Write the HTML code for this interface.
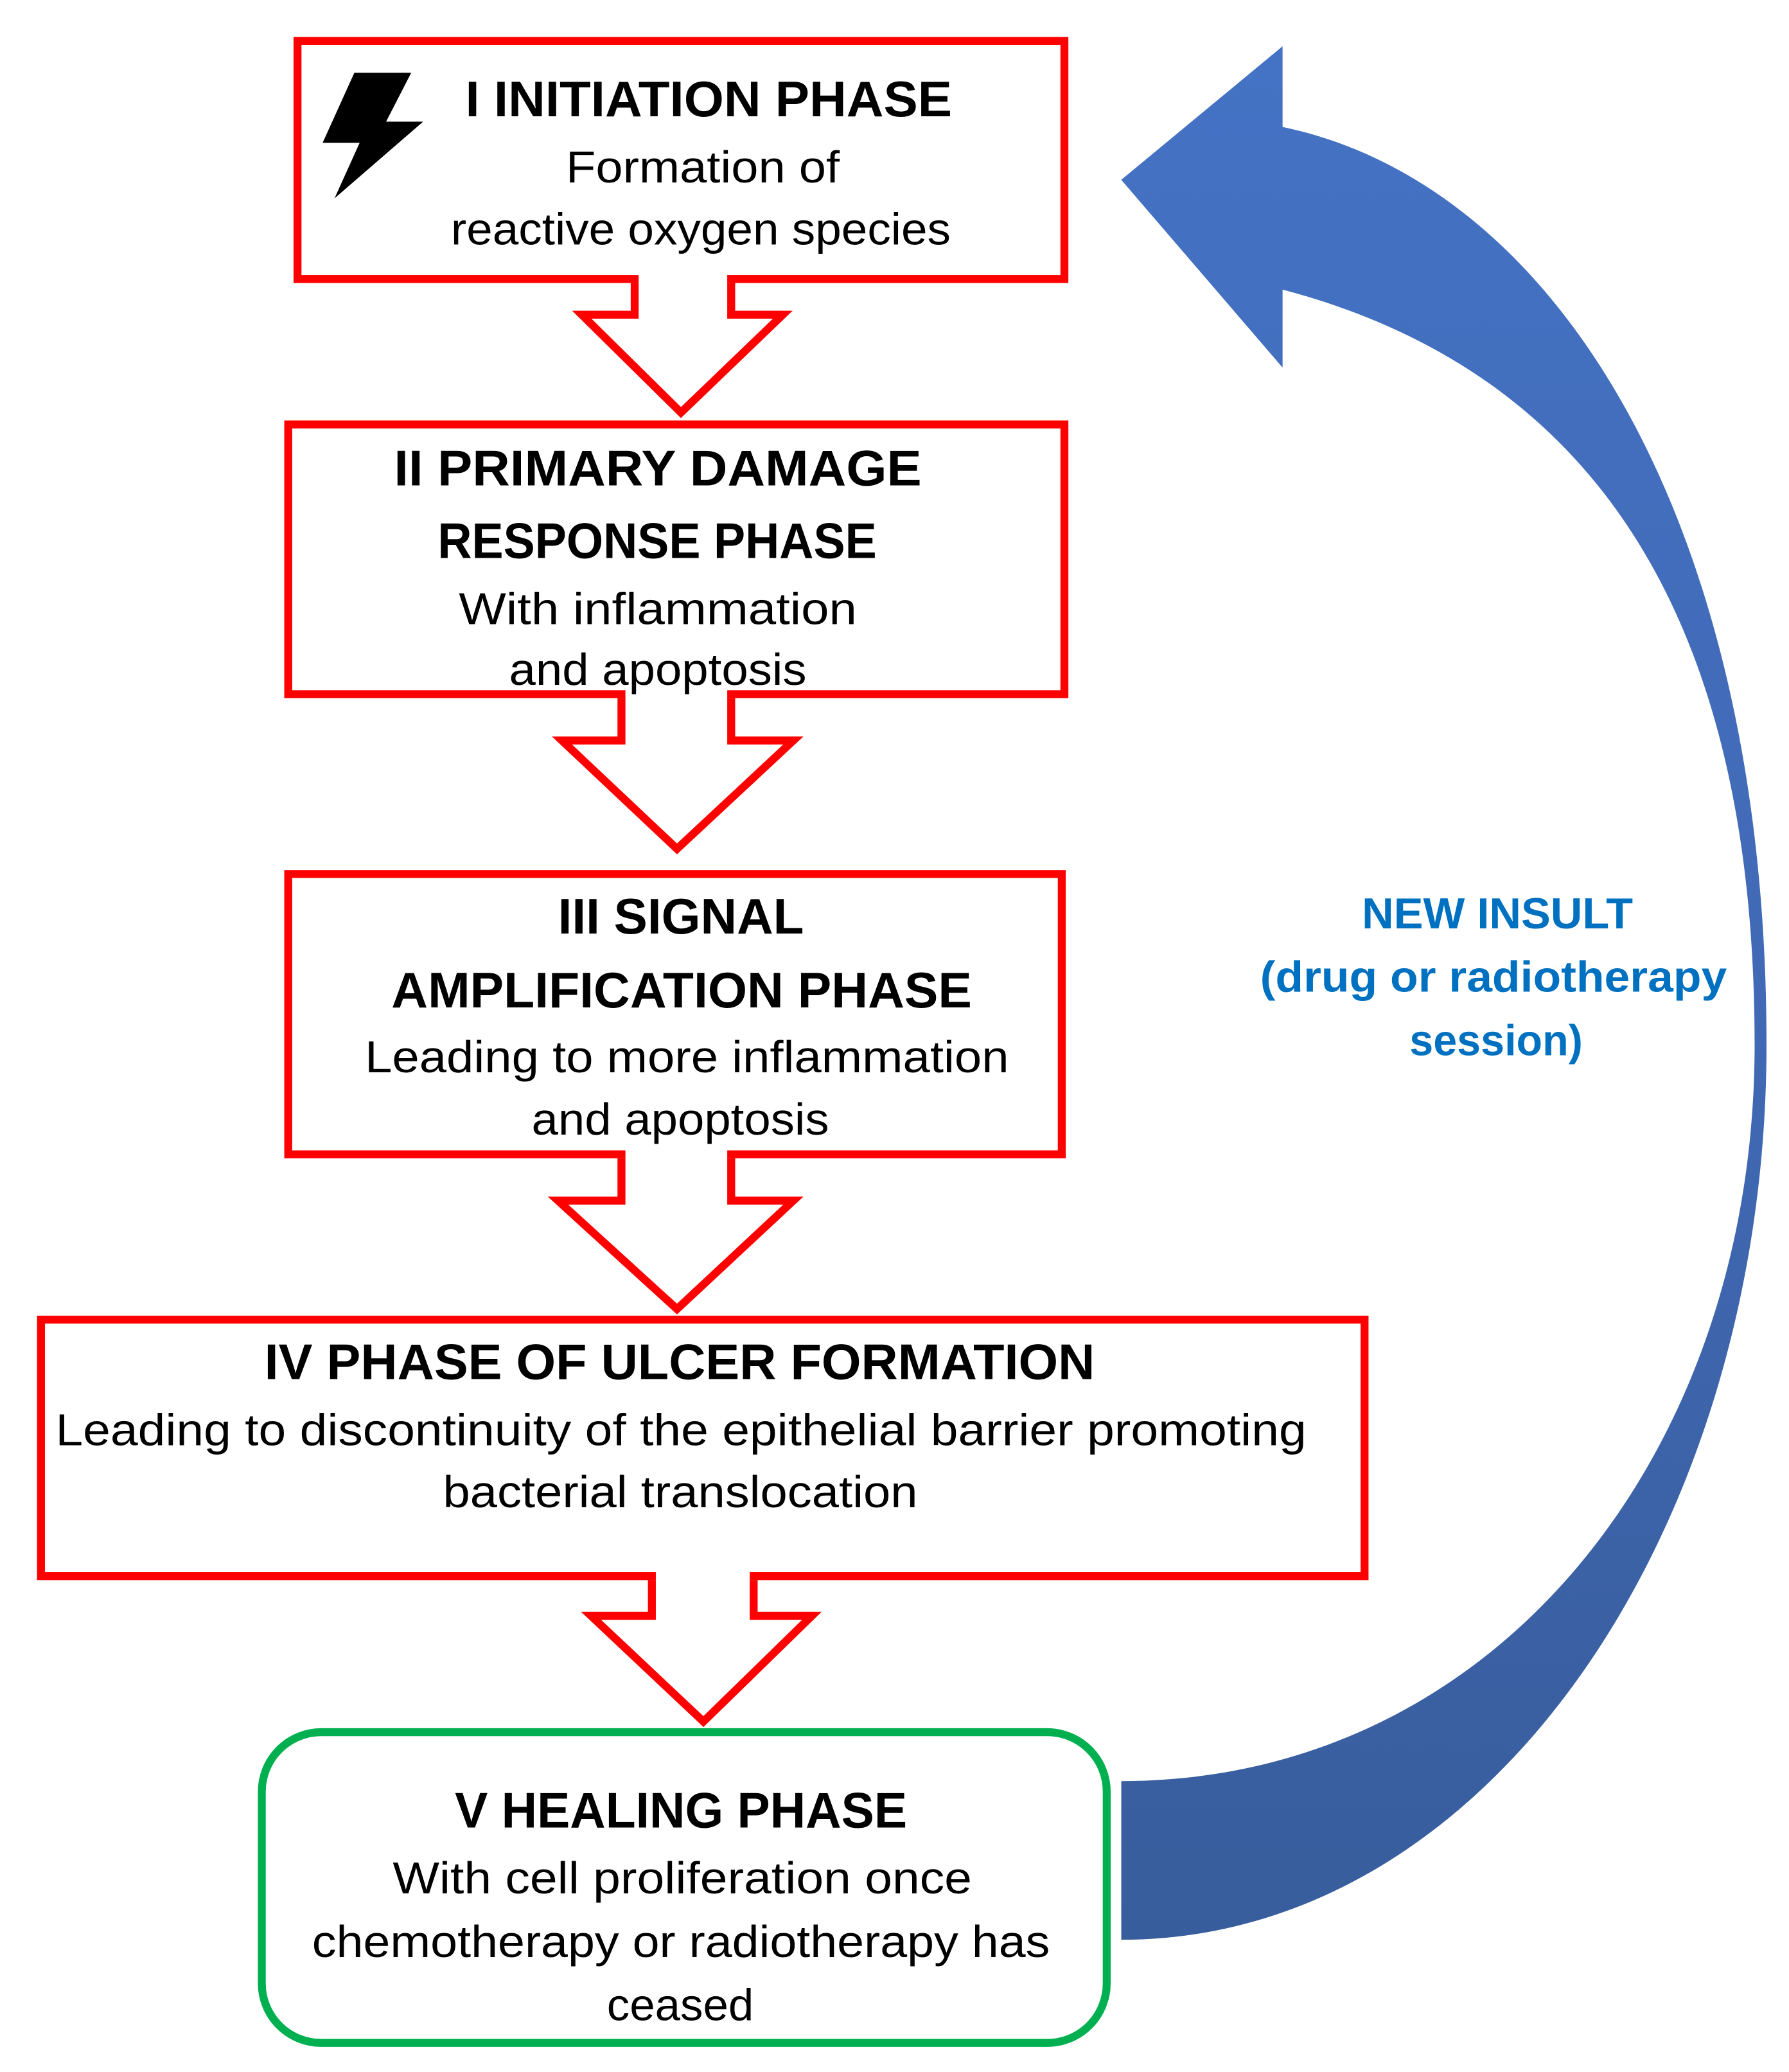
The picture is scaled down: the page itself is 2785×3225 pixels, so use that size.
<!DOCTYPE html>
<html><head><meta charset="utf-8"><style>
html,body{margin:0;padding:0;background:#fff;}
svg{display:block;}
text{font-family:"Liberation Sans",sans-serif;}
</style></head><body>
<svg width="2785" height="3225" viewBox="0 0 1353 1567" preserveAspectRatio="none" xmlns="http://www.w3.org/2000/svg">
<defs>
<linearGradient id="bg" x1="0" y1="0" x2="0" y2="1">
<stop offset="0" stop-color="#4472C4"/><stop offset="0.5" stop-color="#4169B5"/><stop offset="1" stop-color="#385D9C"/>
</linearGradient>
</defs>
<rect width="1353" height="1567" fill="#fff"/>
<path d="M970,96 C1180,140 1336,400 1336,790 C1336,1150 1130,1467 848,1467 L848,1347 C1130,1347 1327,1100 1327,790 C1327,460 1200,280 970,219 L970,278 L848,136 L970,35 Z" fill="url(#bg)"/>
<g fill="#fff" stroke="#FF0000" stroke-width="6">
<rect x="225" y="31" width="580" height="180"/>
<rect x="218" y="321" width="587" height="204"/>
<rect x="218" y="661" width="585" height="212"/>
<rect x="31" y="998" width="1001" height="194"/>
</g>
<rect x="198" y="1310" width="639" height="235" rx="45" ry="45" fill="#fff" stroke="#00B050" stroke-width="6"/>
<g stroke="#FF0000" stroke-width="6" fill="#fff" stroke-linejoin="miter">
<polygon points="483,206 483,240 443,240 515,312 589,240 550,240 550,206" stroke="none"/>
<polyline points="480,214 480,238 440,238 515,312 592,238 553,238 553,214"/>
<polygon points="473,520 473,562 428,562 512,642 597,562 550,562 550,520" stroke="none"/>
<polyline points="470,528 470,560 425,560 512,642 600,560 553,560 553,528"/>
<polygon points="473,868 473,910 425,910 512,990 597,910 550,910 550,868" stroke="none"/>
<polyline points="470,876 470,908 422,908 512,990 600,908 553,908 553,876"/>
<polygon points="496,1187 496,1224 450,1224 532,1302 611,1224 567,1224 567,1187" stroke="none"/>
<polyline points="493,1195 493,1222 447,1222 532,1302 614,1222 570,1222 570,1195"/>
</g>
<polygon points="268,55 311,55 292,92 320,92 253,150 272,108 244,108" fill="#000"/>
<g fill="#000">
<text x="352" y="88" font-size="38" font-weight="bold" textLength="368" lengthAdjust="spacingAndGlyphs">I INITIATION PHASE</text>
<text x="428" y="138" font-size="34" textLength="207" lengthAdjust="spacingAndGlyphs">Formation of</text>
<text x="341" y="185" font-size="34" textLength="378" lengthAdjust="spacingAndGlyphs">reactive oxygen species</text>
<text x="298" y="367" font-size="38" font-weight="bold" textLength="399" lengthAdjust="spacingAndGlyphs">II PRIMARY DAMAGE</text>
<text x="331" y="422" font-size="38" font-weight="bold" textLength="332" lengthAdjust="spacingAndGlyphs">RESPONSE PHASE</text>
<text x="347" y="472" font-size="34" textLength="301" lengthAdjust="spacingAndGlyphs">With inflammation</text>
<text x="385" y="518" font-size="34" textLength="225" lengthAdjust="spacingAndGlyphs">and apoptosis</text>
<text x="422" y="706" font-size="38" font-weight="bold" textLength="186" lengthAdjust="spacingAndGlyphs">III SIGNAL</text>
<text x="296" y="762" font-size="38" font-weight="bold" textLength="439" lengthAdjust="spacingAndGlyphs">AMPLIFICATION PHASE</text>
<text x="276" y="811" font-size="34" textLength="487" lengthAdjust="spacingAndGlyphs">Leading to more inflammation</text>
<text x="402" y="858" font-size="34" textLength="225" lengthAdjust="spacingAndGlyphs">and apoptosis</text>
<text x="200" y="1043" font-size="38" font-weight="bold" textLength="628" lengthAdjust="spacingAndGlyphs">IV PHASE OF ULCER  FORMATION</text>
<text x="42" y="1093" font-size="34" textLength="946" lengthAdjust="spacingAndGlyphs">Leading to discontinuity of the epithelial barrier promoting</text>
<text x="335" y="1140" font-size="34" textLength="359" lengthAdjust="spacingAndGlyphs">bacterial translocation</text>
<text x="344" y="1382" font-size="38" font-weight="bold" textLength="342" lengthAdjust="spacingAndGlyphs">V HEALING PHASE</text>
<text x="297" y="1432" font-size="34" textLength="438" lengthAdjust="spacingAndGlyphs">With cell proliferation once</text>
<text x="236" y="1480" font-size="34" textLength="558" lengthAdjust="spacingAndGlyphs">chemotherapy or radiotherapy has</text>
<text x="459" y="1528" font-size="34" textLength="111" lengthAdjust="spacingAndGlyphs">ceased</text>
</g>
<g fill="#0070C0" font-weight="bold">
<text x="1030" y="702" font-size="33" textLength="205" lengthAdjust="spacingAndGlyphs">NEW INSULT</text>
<text x="953" y="750" font-size="33" textLength="353" lengthAdjust="spacingAndGlyphs">(drug or radiotherapy</text>
<text x="1066" y="798" font-size="33" textLength="131" lengthAdjust="spacingAndGlyphs">session)</text>
</g>
</svg>
</body></html>
